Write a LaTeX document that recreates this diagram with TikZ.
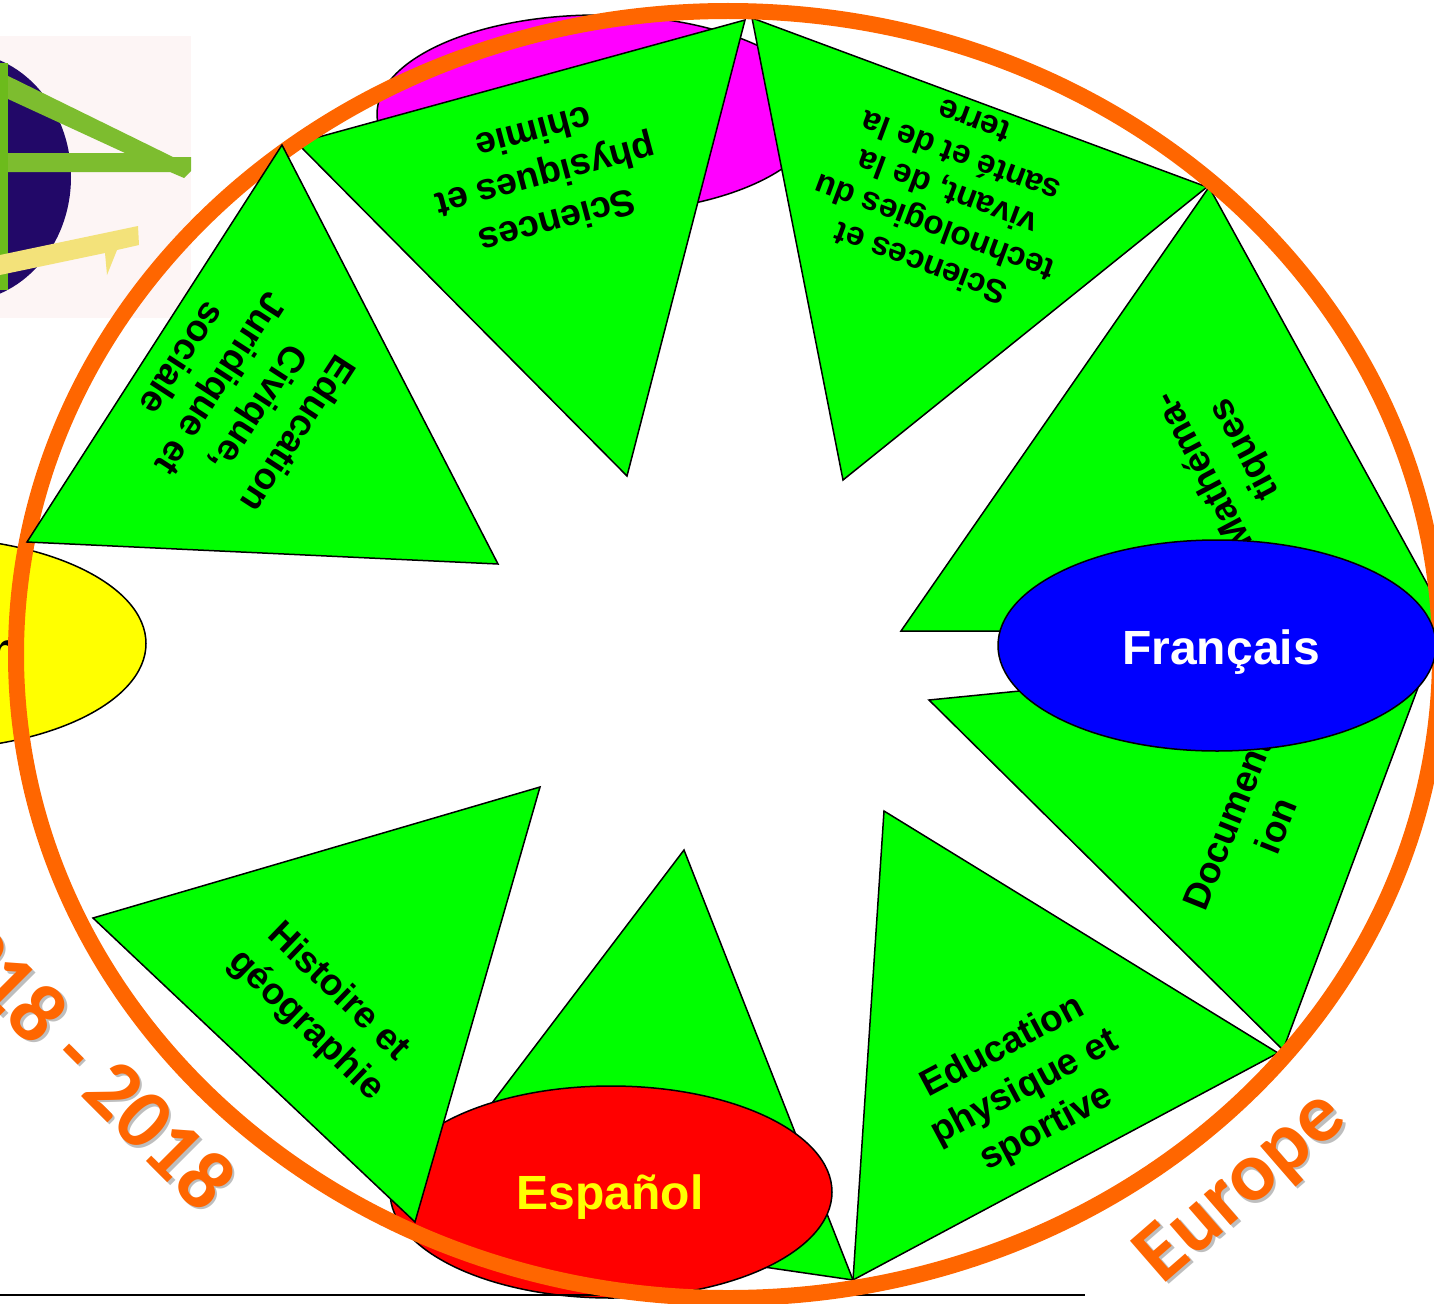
\documentclass[tikz,border=0pt]{standalone}
\usepackage{fontspec}
\setmainfont{Liberation Sans}
\newfontfamily\carl{Carlito}
\usetikzlibrary{shapes.geometric}
\definecolor{tgreen}{RGB}{0,255,0}
\definecolor{orng}{RGB}{255,102,0}
\definecolor{bubmag}{RGB}{255,0,255}
\definecolor{bubyel}{RGB}{255,255,0}
\definecolor{bubred}{RGB}{255,0,0}
\definecolor{bubblue}{RGB}{0,0,255}
\definecolor{shadowc}{RGB}{190,190,190}
\definecolor{logobg}{RGB}{253,245,245}
\definecolor{logonavy}{RGB}{34,8,104}
\definecolor{logogreen}{RGB}{125,189,47}
\definecolor{logogreenb}{RGB}{108,187,28}
\definecolor{logoyel}{RGB}{243,226,122}
\tikzset{
 x=1pt,y=-1pt,
 tri/.style={draw=black,line width=1.5pt,fill=tgreen,line join=miter},
 lab/.style={font=\bfseries\fontsize{37}{46}\selectfont,align=center,inner sep=0pt,text=black},
 bub/.style={ellipse,draw=black,line width=1.5pt,inner sep=0pt},
 bubtxt/.style={font=\bfseries\fontsize{48}{50}\selectfont,inner sep=0pt},
 rim/.style={draw=orng,line width=16pt},
 yearf/.style={font=\carl\bfseries\fontsize{85}{90}\selectfont,inner sep=0pt},
 eurof/.style={font=\carl\bfseries\fontsize{84}{90}\selectfont,inner sep=0pt},
}
\begin{document}
\begin{tikzpicture}
\useasboundingbox (0,0) rectangle (1434,1303);
\clip (0,0) rectangle (1434,1303);
% logo
\fill[logobg] (0,36) rectangle (191,318);
\fill[logonavy] (-40,177) ellipse [x radius=111,y radius=125];
\fill[logogreen] (0,72) -- (173,157) -- (191,157) -- (191,171) -- (184,178) -- (170,172) -- (8,172) -- (8,153) -- (125,153) -- (8,99) -- (0,96) -- cycle;
\fill[logogreenb] (0,63) rectangle (8,290);
\fill[logoyel] (0,255) -- (138,226) -- (139,245) -- (117,250) -- (107,275) -- (105,253) -- (0,275) -- cycle;
% bubbles behind
\node[bub,fill=bubmag,minimum width=442pt,minimum height=198pt] (mag) at (598,114) {};
\node[bub,fill=bubyel,minimum width=442pt,minimum height=212pt] (yel) at (-75,643.5) {};
\node[bubtxt] (yeltxt) at (-75,649) {Deutsch};
% triangle behind Espanol
\draw[tri] (684,850) -- (853,1280) -- (407,1215) -- cycle;
\node[bub,fill=bubred,minimum width=442pt,minimum height=212pt] (esp) at (611,1192) {};
\node[bubtxt,text=bubyel] (esptxt) at (610,1197) {Español};
% other triangles
\draw[tri] (540,787) -- (93,918) -- (415,1222) -- cycle;
\draw[tri] (884,811) -- (1278,1053) -- (853,1280) -- cycle;
\draw[tri] (929,700) -- (1432,650) -- (1283,1050) -- cycle;
\draw[tri] (1209,187) -- (1453,631) -- (901,631) -- cycle;
\draw[tri] (745,20) -- (297,143) -- (627,476) -- cycle;
\draw[tri] (752,18) -- (1207,187) -- (843,480) -- cycle;
% labels
\node[lab,rotate=195] (t1) at (546,178) {Sciences\\physiques et\\chimie};
\node[lab,rotate=159.5,font=\bfseries\fontsize{33}{38}\selectfont] (t2) at (947,193) {Sciences et\\technologies du\\vivant, de la\\santé et de la\\terre};
\node[lab,rotate=118] (t3) at (1225,460) {Mathéma-\\tiques};
\node[lab,rotate=68] (t4) at (1255,817) {Documentat\\ion};
\node[lab,rotate=28] (t5) at (1025,1088) {Education\\physique et\\sportive};
\node[lab,rotate=-44] (t7) at (322,1009) {Histoire et\\géographie};
% baseline rule
\coordinate (ruleA) at (0,1295);
\coordinate (ruleB) at (1085,1295);
\draw[black,line width=1.5pt] (ruleA) -- (ruleB);
% rim
\draw[rim] (728,654.5) ellipse [x radius=712,y radius=643.5];
% triangle over the rim
\draw[tri] (282,145) -- (27,542) -- (498,564) -- cycle;
\node[lab,rotate=237] (t8) at (241,397) {Education\\Civique,\\Juridique et\\sociale};
% francais
\node[bub,fill=bubblue,minimum width=438pt,minimum height=211pt] (fra) at (1217,645.5) {};
\node[bubtxt,text=white] (fratxt) at (1221,652) {Français};
% orange words
\node[yearf,text=shadowc,rotate=-45,anchor=base east] (ys) at (203.5,1218.5) {1918 - 2018};
\node[yearf,text=orng,rotate=-45,anchor=base east] (yr) at (201,1216) {1918 - 2018};
\node[eurof,text=shadowc,rotate=41,anchor=base] (es) at (1258.5,1206.5) {Europe};
\node[eurof,text=orng,rotate=41,anchor=base] (eu) at (1256,1204) {Europe};
\end{tikzpicture}
\end{document}
